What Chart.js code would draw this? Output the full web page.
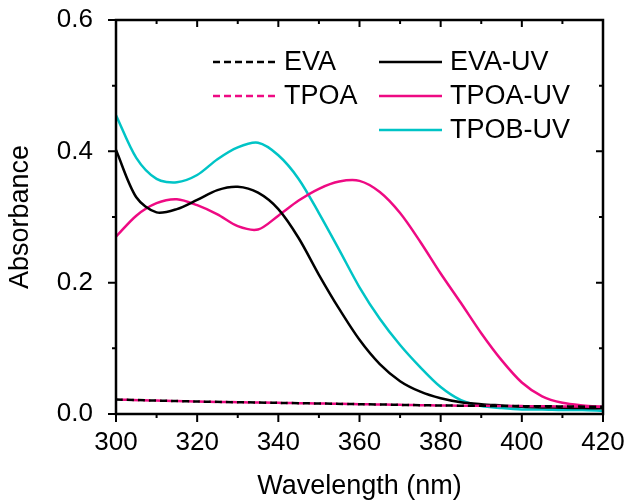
<!DOCTYPE html>
<html lang="en">
<head>
  <meta charset="UTF-8" />
  <title>Absorbance</title>
  <script src="https://cdn.jsdelivr.net/npm/chart.js"></script>
  <style>
    html, body { margin: 0; padding: 0; background: #fff; }
    #wrap { width: 629px; height: 503px; }
  </style>
</head>
<body>
<div id="wrap"><canvas id="chart" width="629" height="503"></canvas></div>
<script>
  // wavelength grid (nm) for the UV-treated curves
  const wavelength = [300, 305, 310, 315, 320, 325, 330, 335, 340, 345, 350, 355, 360,
                      365, 370, 375, 380, 385, 390, 395, 400, 405, 410, 415, 420];
  const evaUV  = [0.402, 0.330, 0.307, 0.312, 0.326, 0.341, 0.346, 0.337, 0.312, 0.268, 0.212, 0.160, 0.113,
                  0.076, 0.050, 0.034, 0.024, 0.018, 0.015, 0.013, 0.011, 0.010, 0.0095, 0.009, 0.0087];
  const tpoaUV = [0.270, 0.302, 0.321, 0.327, 0.318, 0.304, 0.286, 0.281, 0.302, 0.325, 0.343, 0.354, 0.355,
                  0.338, 0.306, 0.262, 0.214, 0.169, 0.123, 0.082, 0.048, 0.027, 0.017, 0.013, 0.011];
  const tpobUV = [0.455, 0.390, 0.358, 0.353, 0.364, 0.388, 0.406, 0.413, 0.394, 0.358, 0.306, 0.250, 0.193,
                  0.145, 0.105, 0.071, 0.041, 0.021, 0.012, 0.009, 0.007, 0.007, 0.006, 0.006, 0.005];

  // untreated films, sampled every 20 nm
  const wavelengthFilm = [300, 320, 340, 360, 380, 400, 420];
  const eva  = [0.022, 0.019, 0.017, 0.015, 0.013, 0.012, 0.011];
  const tpoa = [0.022, 0.019, 0.017, 0.015, 0.013, 0.012, 0.011];

  const xTicks = [300, 320, 340, 360, 380, 400, 420];
  const yTicks = [0.0, 0.2, 0.4, 0.6];

  const MAGENTA = '#EE0A83';
  const CYAN = '#00C4C6';

  const pts = (xs, ys) => xs.map((x, i) => ({ x: x, y: ys[i] }));

  // legend layout: [column, row]
  const legendSlots = [[0, 0], [0, 1], [1, 0], [1, 1], [1, 2]];

  const boxTicks = {
    id: 'boxTicks',
    afterDraw(chart) {
      const { ctx, chartArea: a, scales } = chart;
      const xs = scales.x, ys = scales.y;
      ctx.save();
      ctx.strokeStyle = '#000';
      ctx.lineWidth = 2;
      ctx.beginPath();
      for (let v = 300; v <= 420; v += 10) {
        const px = xs.getPixelForValue(v);
        const major = v % 20 === 0;
        ctx.moveTo(px, a.bottom); ctx.lineTo(px, a.bottom + (major ? 8 : 4));
        ctx.moveTo(px, a.top); ctx.lineTo(px, a.top + (major ? 7 : 4));
      }
      for (let k = 0; k <= 6; k++) {
        const py = ys.getPixelForValue(k / 10);
        const major = k % 2 === 0;
        ctx.moveTo(a.left, py); ctx.lineTo(a.left - (major ? 8 : 4), py);
        ctx.moveTo(a.right, py); ctx.lineTo(a.right - (major ? 7 : 4), py);
      }
      ctx.stroke();
      ctx.lineWidth = 2.5;
      ctx.strokeRect(a.left, a.top, a.right - a.left, a.bottom - a.top);

      // legend in two columns
      const colLine = [[213, 275], [379, 442]];
      const colText = [284, 450];
      const rowY = [62, 96, 130];
      ctx.font = '27px "Liberation Sans", Arial, sans-serif';
      ctx.textBaseline = 'middle';
      ctx.fillStyle = '#000';
      chart.data.datasets.forEach((ds, i) => {
        const [c, r] = legendSlots[i];
        const y = rowY[r];
        ctx.beginPath();
        ctx.strokeStyle = ds.borderColor;
        ctx.lineWidth = ds.borderWidth;
        ctx.setLineDash(ds.borderDash || []);
        ctx.moveTo(colLine[c][0], y);
        ctx.lineTo(colLine[c][1], y);
        ctx.stroke();
        ctx.setLineDash([]);
        ctx.fillText(ds.label, colText[c], y + 1);
      });
      ctx.restore();
    }
  };

  const font = { family: '"Liberation Sans", Arial, sans-serif', size: 26 };

  new Chart(document.getElementById('chart'), {
    type: 'line',
    data: {
      datasets: [
        { label: 'EVA', data: pts(wavelengthFilm, eva), borderColor: '#000', borderWidth: 2.5,
          borderDash: [7, 4], borderDashOffset: 0 },
        { label: 'TPOA', data: pts(wavelengthFilm, tpoa), borderColor: MAGENTA, borderWidth: 2.5,
          borderDash: [7, 4], borderDashOffset: 5.5 },
        { label: 'EVA-UV', data: pts(wavelength, evaUV), borderColor: '#000', borderWidth: 2.5 },
        { label: 'TPOA-UV', data: pts(wavelength, tpoaUV), borderColor: MAGENTA, borderWidth: 2.5 },
        { label: 'TPOB-UV', data: pts(wavelength, tpobUV), borderColor: CYAN, borderWidth: 2.5 }
      ]
    },
    options: {
      responsive: false,
      animation: false,
      layout: { padding: { left: 0, top: 20, right: 26, bottom: 0 } },
      elements: { point: { radius: 0 }, line: { tension: 0.3 } },
      plugins: { legend: { display: false }, tooltip: { enabled: false } },
      scales: {
        x: {
          type: 'linear', min: 300, max: 420,
          afterBuildTicks: s => { s.ticks = xTicks.map(v => ({ value: v })); },
          grid: { display: false },
          border: { display: false },
          ticks: { color: '#000', font: font, padding: 5, maxRotation: 0 },
          title: { display: true, text: 'Wavelength (nm)', color: '#000',
                   font: { family: font.family, size: 27 }, padding: { top: 6, bottom: 0 } },
          afterFit: s => { s.height = 89; s.paddingLeft = 0; s.paddingRight = 0; }
        },
        y: {
          min: 0, max: 0.6,
          afterBuildTicks: s => { s.ticks = yTicks.map(v => ({ value: v })); },
          grid: { display: false },
          border: { display: false },
          ticks: { color: '#000', font: font, padding: 15, callback: v => v.toFixed(1) },
          title: { display: true, text: 'Absorbance', color: '#000',
                   font: { family: font.family, size: 27 }, padding: { top: 4, bottom: 0 } },
          afterFit: s => { s.width = 116; s.paddingTop = 0; s.paddingBottom = 0; }
        }
      }
    },
    plugins: [boxTicks]
  });
</script>
</body>
</html>
